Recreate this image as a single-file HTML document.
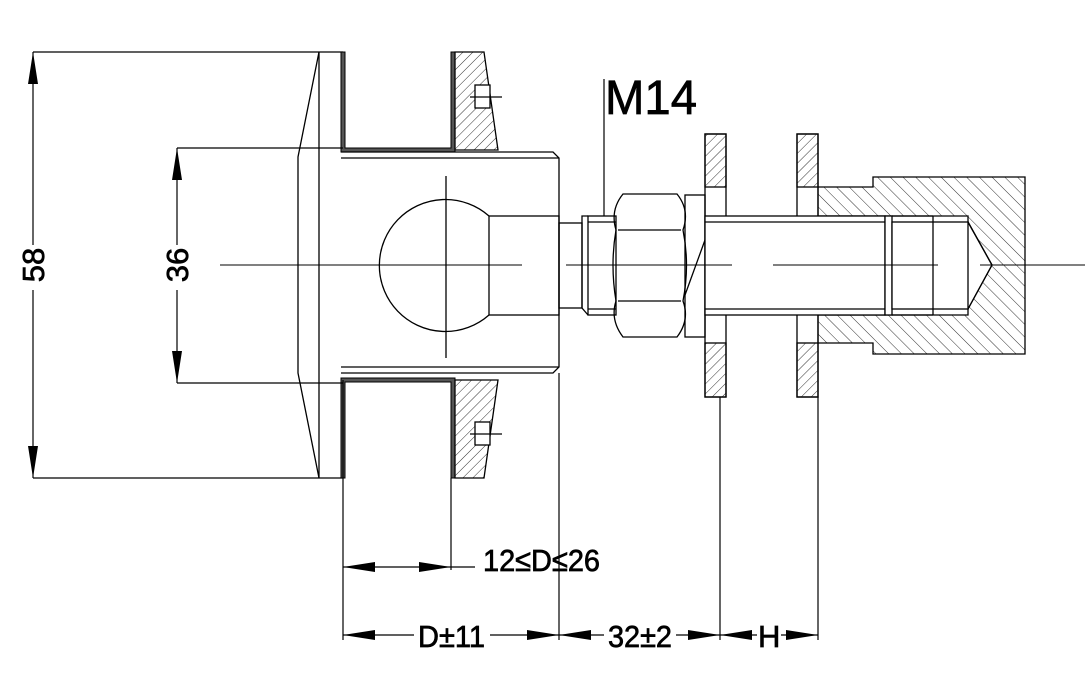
<!DOCTYPE html>
<html><head><meta charset="utf-8"><style>html,body{margin:0;padding:0;background:#fff}svg{display:block}text{font-family:"Liberation Sans",sans-serif;fill:#000;stroke:#000;stroke-width:0.7}</style></head>
<body>
<svg width="1089" height="679" viewBox="0 0 1089 679" xmlns="http://www.w3.org/2000/svg">
<defs>
<pattern id="h1" width="7" height="7" patternUnits="userSpaceOnUse" patternTransform="rotate(45)"><line x1="0" y1="0" x2="0" y2="7" stroke="#333" stroke-width="1"/></pattern>
<pattern id="h2" width="9" height="9" patternUnits="userSpaceOnUse" patternTransform="rotate(-45)"><line x1="0" y1="0" x2="0" y2="9" stroke="#333" stroke-width="1"/></pattern>
</defs>
<g fill="none" stroke="#000" stroke-width="1.3">
<line x1="33" y1="52" x2="343" y2="52"/>
<line x1="33" y1="478" x2="343" y2="478"/>
<polyline points="319,52 298,157 298,373 319,478"/>
<line x1="319" y1="52" x2="319" y2="478"/>
<path d="M341,52 V152 H455 V52 H451 V148 H345 V52 Z" fill="#555" stroke-width="1"/>
<path d="M341,478 V378 H455 V478 H451 V382 H345 V478 Z" fill="#555" stroke-width="1"/>
<path d="M455,52 H484 L498,150 H455 Z" fill="url(#h1)"/>
<path d="M455,478 H484 L498,380 H455 Z" fill="url(#h1)"/>
<rect x="475" y="85" width="15" height="23" fill="#fff"/>
<line x1="470" y1="97" x2="502" y2="97"/>
<rect x="475" y="422" width="15" height="23" fill="#fff"/>
<line x1="470" y1="434" x2="502" y2="434"/>
<path d="M341,152 H553 L559,158 V367 L553,373 H341" />
<line x1="341" y1="158" x2="559" y2="158"/>
<line x1="341" y1="367" x2="559" y2="367"/>
<path d="M489,216 A66,66 0 1 0 489,315"/>
<rect x="489" y="216" width="70" height="99"/>
<line x1="446" y1="176" x2="446" y2="358"/>
<rect x="559" y="223" width="23" height="85"/>
<path d="M588,216 H582 L582,223 L582,308 L588,315"/>
<rect x="588" y="216" width="28" height="99"/>
<line x1="588" y1="222" x2="616" y2="222"/>
<line x1="588" y1="309" x2="616" y2="309"/>
<path d="M623,194 H677 Q690,210 683,230 Q690,265 683,301 Q690,320 677,337 H623 Q610,320 616,301 Q610,265 616,230 Q610,210 623,194 Z"/>
<line x1="618" y1="230" x2="681" y2="230"/>
<line x1="618" y1="301" x2="681" y2="301"/>
<rect x="685" y="195" width="20" height="142"/>
<line x1="685" y1="295" x2="705" y2="240"/>
<rect x="705" y="134" width="21" height="263"/>
<rect x="705" y="134" width="21" height="53" fill="url(#h1)"/>
<rect x="705" y="343" width="21" height="54" fill="url(#h1)"/>
<rect x="797" y="134" width="21" height="263"/>
<rect x="797" y="134" width="21" height="53" fill="url(#h1)"/>
<rect x="797" y="343" width="21" height="54" fill="url(#h1)"/>
<path d="M818,187 H873 V177 H1025 V354 H873 V343 H818 V315 H968 L968,309 L968,222 V216 H818 Z" fill="url(#h2)"/>
<path d="M968,222 L992,265 L968,309" fill="#fff"/>
<line x1="968" y1="222" x2="992" y2="265"/>
<line x1="968" y1="309" x2="992" y2="265"/>
<rect x="705" y="216" width="180" height="99" fill="#fff"/>
<line x1="705" y1="222" x2="885" y2="222"/>
<line x1="705" y1="309" x2="885" y2="309"/>
<rect x="885" y="216" width="7" height="99" fill="#fff"/>
<rect x="892" y="222" width="76" height="87" fill="#fff"/>
<line x1="892" y1="216" x2="933" y2="216"/>
<line x1="892" y1="315" x2="933" y2="315"/>
<line x1="933" y1="216" x2="933" y2="315"/>
</g>
<g stroke="#000" stroke-width="1">
<line x1="220" y1="265" x2="522" y2="265"/>
<line x1="566" y1="265" x2="732" y2="265"/>
<line x1="773" y1="265" x2="938" y2="265"/>
<line x1="980" y1="265" x2="1085" y2="265"/>
</g>
<g stroke="#000" stroke-width="1.2" fill="none">
<line x1="33" y1="52" x2="33" y2="245"/><line x1="33" y1="290" x2="33" y2="478"/>
<line x1="177" y1="148" x2="177" y2="245"/><line x1="177" y1="290" x2="177" y2="383"/>
<line x1="177" y1="148" x2="343" y2="148"/><line x1="177" y1="383" x2="343" y2="383"/>
<line x1="604" y1="79" x2="604" y2="216"/>
<line x1="343" y1="380" x2="343" y2="640"/>
<line x1="451" y1="478" x2="451" y2="570"/>
<line x1="559" y1="373" x2="559" y2="640"/>
<line x1="720" y1="397" x2="720" y2="640"/>
<line x1="818" y1="397" x2="818" y2="640"/>
<line x1="343" y1="567" x2="475" y2="567"/>
<line x1="343" y1="635" x2="818" y2="635"/>
</g>
<g fill="#000">
<polygon points="33,52 28,84 38,84"/><polygon points="33,478 28,446 38,446"/>
<polygon points="177,148 172,180 182,180"/><polygon points="177,383 172,351 182,351"/>
<polygon points="343,567 375,562 375,572"/><polygon points="451,567 419,562 419,572"/>
<polygon points="343,635 375,630 375,640"/><polygon points="559,635 527,630 527,640"/>
<polygon points="559,635 591,630 591,640"/><polygon points="720,635 688,630 688,640"/>
<polygon points="720,635 752,630 752,640"/><polygon points="818,635 786,630 786,640"/>
</g>
<g font-size="31">
<rect x="414" y="620" width="76" height="30" fill="#fff" stroke="none"/>
<rect x="604" y="620" width="72" height="30" fill="#fff" stroke="none"/>
<rect x="757" y="620" width="24" height="30" fill="#fff" stroke="none"/>
<text x="418" y="647" textLength="67" lengthAdjust="spacingAndGlyphs">D±11</text>
<text x="608" y="647" textLength="64" lengthAdjust="spacingAndGlyphs">32±2</text>
<text x="758" y="647">H</text>
<text x="483" y="571" textLength="117" lengthAdjust="spacingAndGlyphs">12≤D≤26</text>
<text transform="translate(44,265) rotate(-90)" text-anchor="middle">58</text>
<text transform="translate(188,265) rotate(-90)" text-anchor="middle">36</text>
<text x="605" y="114" font-size="48" textLength="92" lengthAdjust="spacingAndGlyphs">M14</text>
</g>
</svg>
</body></html>
